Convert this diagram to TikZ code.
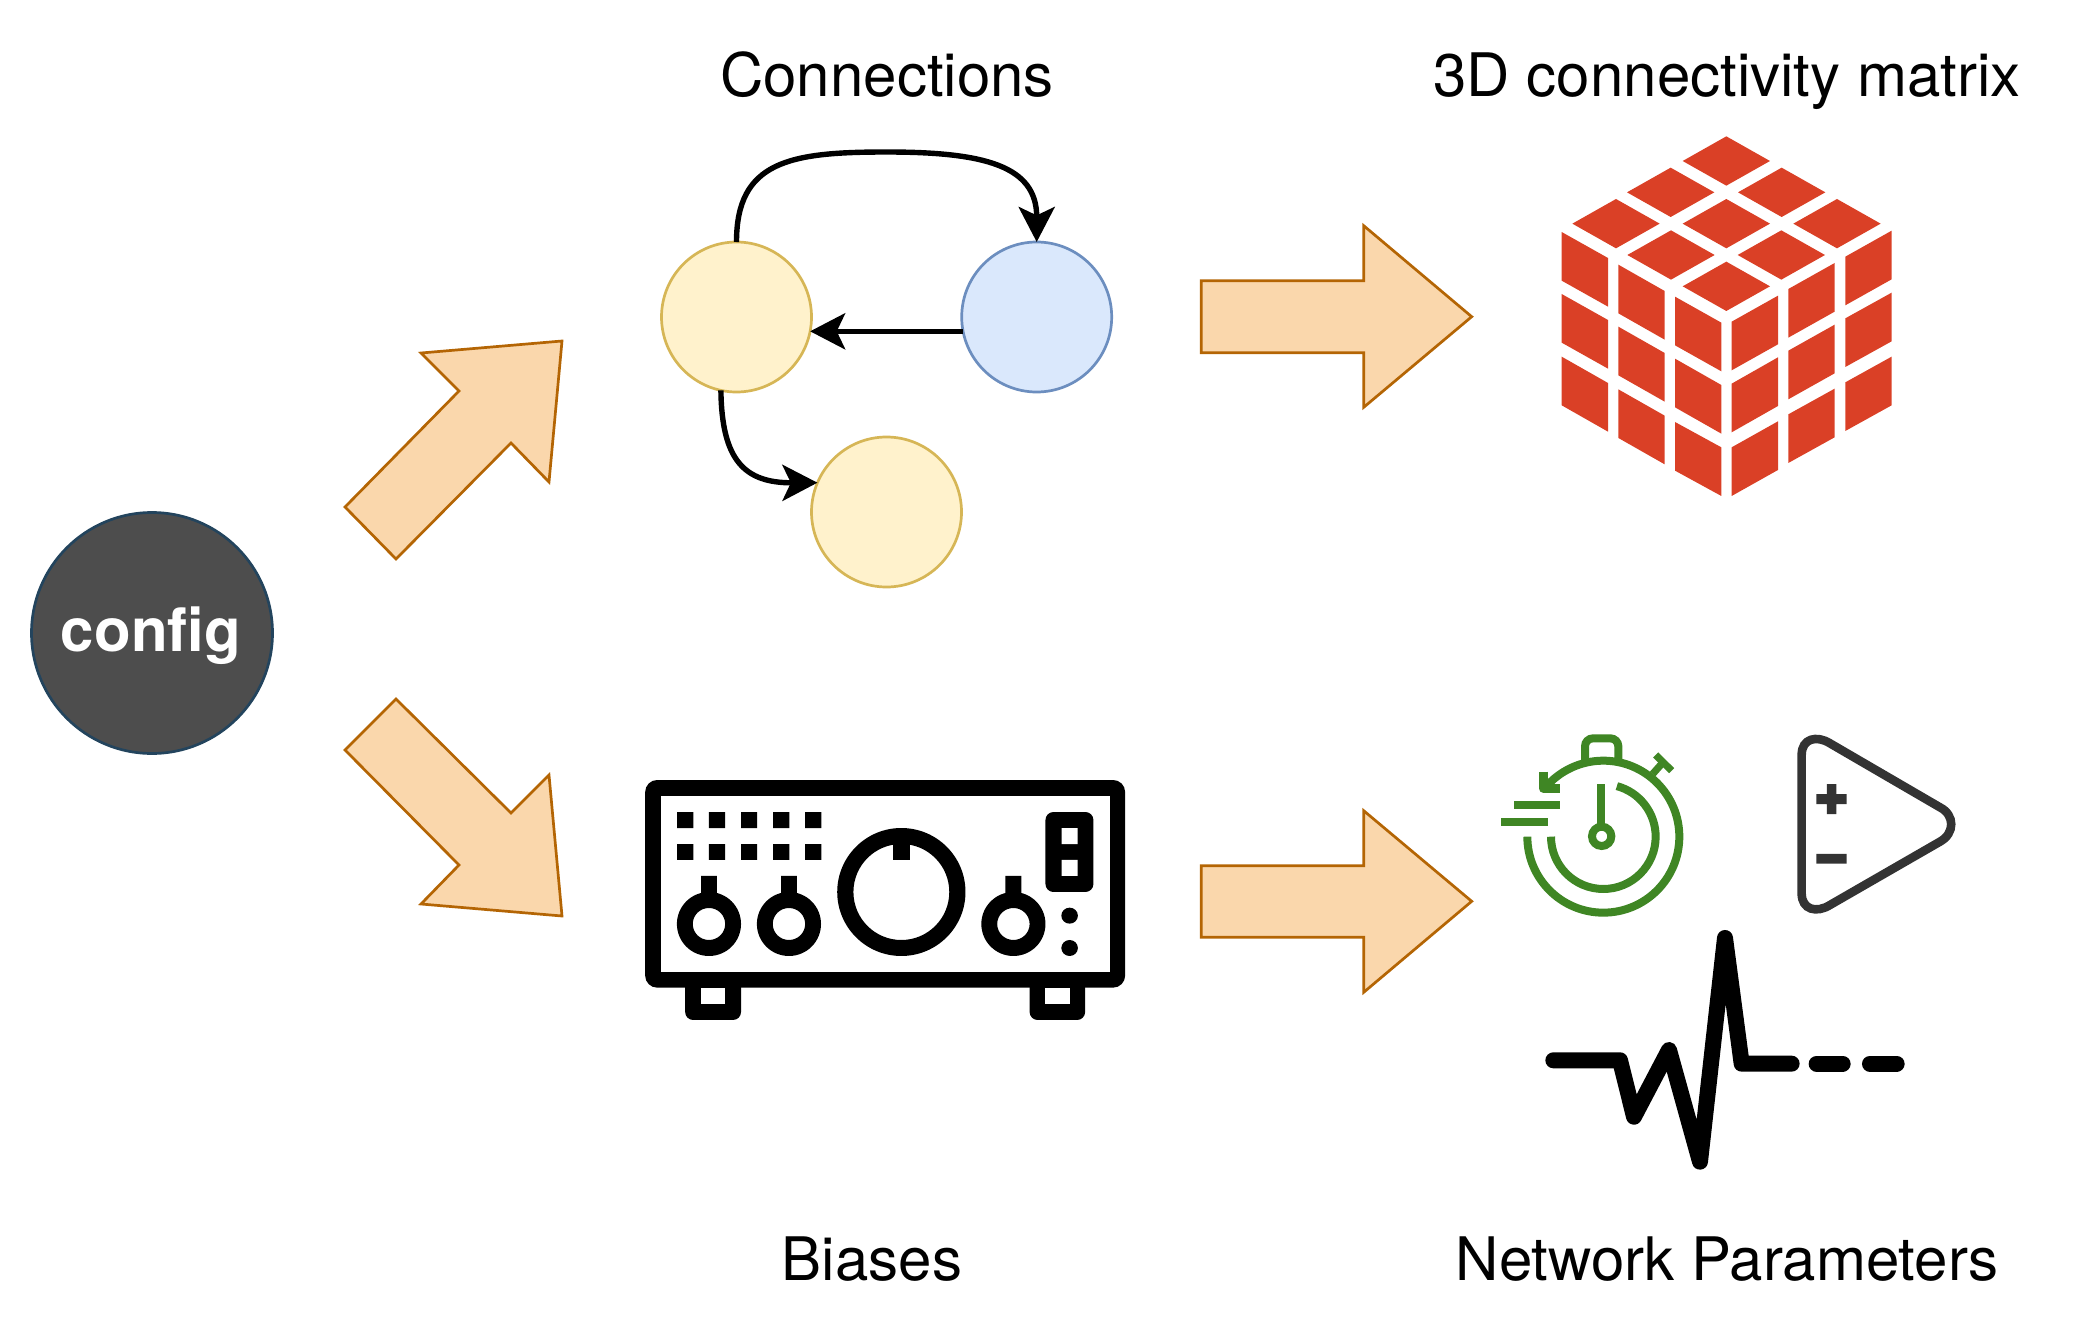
\documentclass[tikz,border=0pt]{standalone}
\usepackage{fontspec}
\setmainfont{TeX Gyre Heros}
\usetikzlibrary{arrows.meta}
\definecolor{orfill}{HTML}{FAD7AC}
\definecolor{orline}{HTML}{B46504}
\definecolor{yefill}{HTML}{FFF2CC}
\definecolor{yeline}{HTML}{D6B656}
\definecolor{blfill}{HTML}{DAE8FC}
\definecolor{blline}{HTML}{6C8EBF}
\definecolor{cfgfill}{HTML}{4D4D4D}
\definecolor{cfgline}{HTML}{23445D}
\definecolor{cubered}{HTML}{DA4026}
\definecolor{watchgreen}{HTML}{3F8624}
\definecolor{ampgray}{HTML}{333333}
\tikzset{
  blockarrow/.style={fill=orfill,draw=orline,line width=1.35pt,line join=miter},
  graphnode/.style={circle,minimum size=75pt,inner sep=0pt,outer sep=0pt,line width=1.35pt},
  link/.style={draw=black,line width=2.7pt,-{Stealth[length=17.5pt,width=18pt,inset=4.2pt]}},
  caption/.style={anchor=base,font=\fontsize{30}{36}\selectfont},
  watchline/.style={draw=watchgreen,line width=4pt},
  ampline/.style={draw=ampgray,line width=4.3pt},
  pulseline/.style={draw=black,line width=8pt,line cap=round,line join=round},
}
\begin{document}
\begin{tikzpicture}[x=0.5pt,y=-0.5pt]
\useasboundingbox (0,0) rectangle (2073,1338);
% captions
\node[caption] (capconn) at (887,96.5) {Connections};
\node[caption] (capmatrix) at (1727,96.5) {3D connectivity matrix};
\node[caption] (capbias) at (872,1280.5) {Biases};
\node[caption] (capparam) at (1727,1280.5) {Network Parameters};
% config
\node[circle,minimum size=120.5pt,inner sep=0pt,fill=cfgfill,draw=cfgline,line width=1.35pt] (config) at (152,633) {};
\node[anchor=base,text=white,font=\bfseries\fontsize{30}{36}\selectfont] (configtxt) at (151,651.5) {config};
% block arrows
\draw[blockarrow] (345,507) -- (396,559) -- (511,443) -- (549,482) -- (562,341) -- (421,353) -- (459,391) -- cycle;
\draw[blockarrow] (396,699) -- (345,750) -- (459,865) -- (421,904) -- (562,916) -- (549,775) -- (511,813) -- cycle;
\draw[blockarrow] (1201.3,280.7) -- (1363.7,280.7) -- (1363.7,225.7) -- (1471.7,316.7) -- (1363.7,407.3) -- (1363.7,352.7) -- (1201.3,352.7) -- cycle;
\draw[blockarrow] (1201.3,865.7) -- (1363.7,865.7) -- (1363.7,810.7) -- (1471.7,901.3) -- (1363.7,992.3) -- (1363.7,937.3) -- (1201.3,937.3) -- cycle;
% graph
\node[graphnode,fill=yefill,draw=yeline] (ya) at (736.5,317) {};
\node[graphnode,fill=blfill,draw=blline] (ba) at (1036.7,317) {};
\node[graphnode,fill=yefill,draw=yeline] (yb) at (886.5,512) {};
\draw[link] (ya.north) .. controls (736.5,161) and (790,152) .. (886.5,152) .. controls (985,152) and (1036.7,166) .. (ba.north);
\draw[link] (ba.191.7) -- (ya.-11.7);
\draw[link] (ya.258.5) .. controls (721.7,461) and (745,483) .. (yb.157.5);
% cube
\begin{scope}[shift={(1540,120)},x=0.5pt/3,y=-0.5pt/3]
\fill[cubered] foreach \x/\y in {559/123,392/217,725/217,228/311,559/311,891/311,393/405,724/405,559/499} {
  (\x-131,\y) -- (\x,\y-74) -- (\x+131,\y) -- (\x,\y+74) -- cycle };
\fill[cubered] foreach \x/\y/\d in {
  65/336/78,65/522/78,65/710/79,
  235/434/79,235/620/79,235/808/79,
  405/530/78,405/716/79,405/906/76,
  575/605/-78,575/791/-79,575/982/-78,
  745/507/-78,745/692/-78,745/883/-77,
  916/410/-78,916/595/-77,916/787/-77} {
  (\x,\y) -- ++(139,\d) -- ++(0,146) -- ++(-139,-\d) -- cycle };
\end{scope}
% amplifier device
\begin{scope}[shift={(620,740)},x=0.5pt/2.9,y=-0.5pt/3]
\fill[black,rounded corners=6pt] (73,120) rectangle (1465,743);
\fill[black,rounded corners=4pt] (189,700) rectangle (351,840);
\fill[black,rounded corners=4pt] (1188,700) rectangle (1349,840);
\fill[white] (119,167) rectangle (1420,696);
\fill[white] (234,743) rectangle (305,792);
\fill[white] (1233,743) rectangle (1304,792);
\fill[black] foreach \x in {166,258,351,444,537} { foreach \y in {216,312} { (\x,\y) rectangle ++(47,48) } };
\fill[black,even odd rule] foreach \x in {258,490,1141} { (\x,552) ellipse[x radius=93,y radius=96] (\x,552) ellipse[x radius=47,y radius=48] };
\fill[black] foreach \x in {258,490,1141} { (\x-23,408) rectangle (\x+23,470) };
\fill[black,even odd rule] (816,456) ellipse[x radius=186,y radius=192] (816,456) ellipse[x radius=139,y radius=144];
\fill[black] (793,300) rectangle (840,360);
\fill[black,rounded corners=4pt] (1234,216) rectangle (1373,456);
\fill[white] (1281,264) rectangle (1327,312) (1281,360) rectangle (1327,408);
\fill[black] (1304,527) ellipse[x radius=24,y radius=24] (1304,624) ellipse[x radius=24,y radius=24];
\end{scope}
% stopwatch, amp symbol and pulse
\begin{scope}[shift={(1480,720)},x=0.5pt/3,y=-0.5pt/3]
\draw[watchline] (142,350) arc[start angle=180,end angle=-140,radius=228];
\draw[watchline] (213,350) arc[start angle=180,end angle=-75,radius=157];
\draw[watchline] (363,192) -- (363,325);
\draw[watchline] (365,349) circle[radius=29];
\draw[watchline,rounded corners=4pt] (315,122) -- (315,55) -- (415,55) -- (415,122);
\draw[watchline,line width=3.6pt] (518,162) -- (550,126);
\draw[watchline,line width=3.6pt] (527,105) -- (575,152);
\draw[watchline,line width=4.4pt,line join=round] (190,155) -- (190,205) -- (240,205);
\draw[watchline] (102,256) -- (240,256);
\draw[watchline] (64,306) -- (203,306);
\draw[ampline] (965,105) .. controls (965,55) and (1010,45) .. (1050,70) -- (1380,262) .. controls (1425,285) and (1425,340) .. (1380,365) -- (1050,555) .. controls (1010,580) and (965,570) .. (965,520) -- cycle;
\fill[ampgray] (1009,222) rectangle (1100,252) (1041,192) rectangle (1069,282) (1009,402) rectangle (1100,431);
\draw[pulseline] (220,1021) -- (420,1021) -- (462,1190) -- (567,990) -- (660,1325) -- (735,654) -- (785,1031) -- (935,1031);
\draw[pulseline] (1010,1031) -- (1088,1031);
\draw[pulseline] (1170,1031) -- (1250,1031);
\end{scope}
\end{tikzpicture}
\end{document}
